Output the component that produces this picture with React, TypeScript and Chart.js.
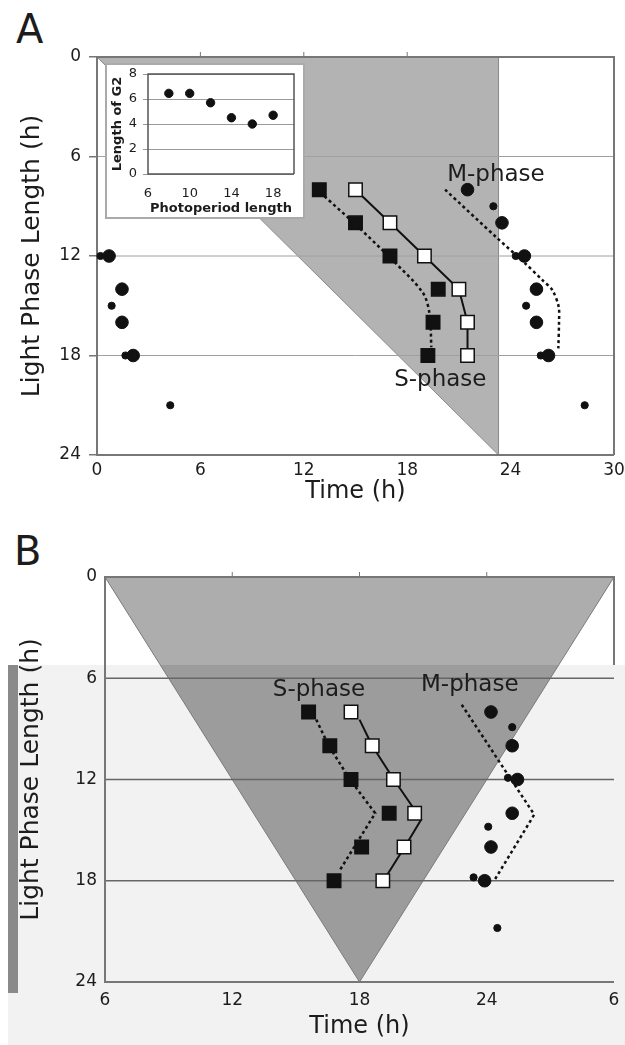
import React, { useEffect, useRef } from 'react';
import { Chart, registerables } from 'chart.js';

Chart.register(...registerables);

const FONT = '"DejaVu Sans", Verdana, sans-serif';
const INK = '#1c1c1c';

// ---------- Panel A (main) ----------
const A_LIGHT = [8, 10, 12, 14, 16, 18];
const A_S_START = [12.9, 15.0, 17.0, 19.8, 19.5, 19.2];
const A_S_END = [15.0, 17.0, 19.0, 21.0, 21.5, 21.5];
const A_S_FIT_X = [13.2, 15.0, 17.0, 18.9, 19.3, 19.4];
const A_S_FIT_Y = [8.4, 10.1, 12.1, 14.2, 15.5, 17.5];
const A_M_BIG = [21.5, 23.5, 24.8, 25.5, 25.5, 26.2];
const A_M_SMALL_X = [23.0, 24.3, 24.9, 25.75, 28.3];
const A_M_SMALL_Y = [9, 12, 15, 18, 21];
const A_WRAP_BIG_X = [0.7, 1.45, 1.45, 2.1];
const A_WRAP_BIG_Y = [12, 14, 16, 18];
const A_WRAP_SMALL_X = [0.2, 0.85, 1.65, 4.25];
const A_WRAP_SMALL_Y = [12, 15, 18, 21];
const A_M_FIT_X = [20.2, 23.2, 24.8, 25.85, 26.42, 26.79, 26.81, 26.77];
const A_M_FIT_Y = [8.0, 10.9, 12.4, 13.46, 14.05, 15.06, 15.96, 17.57];
const A_DARK_X = [0, 23.3, 23.3];
const A_DARK_Y = [0, 0, 24];
const A_X_TICKS = ['0', '6', '12', '18', '24', '30'];
const A_TOP_TICKS = [6, 12, 18];
const A_GRID = [6, 12, 18];
const A_LABELS = ['M-phase', 'S-phase'];
const A_LABEL_X = [23.15, 19.92];
const A_LABEL_Y = [7.49, 19.84];

// ---------- Panel A inset ----------
const INSET_PHOTOPERIOD = [8, 10, 12, 14, 16, 18];
const INSET_G2 = [6.45, 6.45, 5.7, 4.5, 4.0, 4.7];
const INSET_X_TICKS = [6, 10, 14, 18];

// ---------- Panel B ----------
const B_LIGHT = [8, 10, 12, 14, 16, 18];
const B_S_START = [15.6, 16.6, 17.6, 19.4, 18.1, 16.8];
const B_S_END = [17.6, 18.6, 19.6, 20.6, 20.1, 19.1];
const B_S_FIT_X = [15.96, 16.55, 17.55, 18.74, 17.04];
const B_S_FIT_Y = [8.45, 10.0, 12.0, 14.0, 17.44];
const B_E_FIT_X = [18.0, 18.6, 19.62, 20.91, 20.13, 19.13];
const B_E_FIT_Y = [8.45, 10.0, 12.0, 14.37, 16.0, 18.0];
const B_M_BIG = [24.2, 25.2, 25.45, 25.2, 24.2, 23.9];
const B_M_SMALL_X = [25.2, 25.0, 24.07, 23.38, 24.5];
const B_M_SMALL_Y = [8.9, 11.9, 14.8, 17.8, 20.8];
const B_M_FIT_X = [22.82, 26.24, 24.38];
const B_M_FIT_Y = [7.57, 14.08, 17.93];
const B_DARK_X = [6, 30, 18];
const B_DARK_Y = [0, 0, 24];
const B_X_TICKS = ['6', '12', '18', '24', '6'];
const B_TOP_TICKS = [12, 18, 24];
const B_GRID = [6, 12, 18];
const B_LABELS = ['S-phase', 'M-phase'];
const B_LABEL_X = [16.09, 23.2];
const B_LABEL_Y = [7.03, 6.78];

const pts = (xs: number[], ys: number[]) => xs.map((x, i) => ({ x, y: ys[i] }));

const decorPlugin = {
  id: 'decor',
  beforeDatasetsDraw(chart: any, _a: any, o: any) {
    const { ctx, chartArea: ca } = chart;
    const sx = chart.scales.x;
    const sy = chart.scales.y;
    ctx.save();
    if (o.polyX) {
      const path = () => {
        ctx.beginPath();
        o.polyX.forEach((vx: number, i: number) => {
          const px = sx.getPixelForValue(vx);
          const py = sy.getPixelForValue(o.polyY[i]);
          if (i) ctx.lineTo(px, py);
          else ctx.moveTo(px, py);
        });
        ctx.closePath();
      };
      if (o.splitY != null) {
        ctx.save();
        ctx.beginPath();
        ctx.rect(0, 0, chart.width, o.splitY);
        ctx.clip();
        path();
        ctx.fillStyle = o.fill;
        ctx.fill();
        ctx.restore();
        ctx.save();
        ctx.beginPath();
        ctx.rect(0, o.splitY, chart.width, chart.height);
        ctx.clip();
        path();
        ctx.fillStyle = o.fill2;
        ctx.fill();
        ctx.restore();
      } else {
        path();
        ctx.fillStyle = o.fill;
        ctx.fill();
      }
      path();
      ctx.strokeStyle = o.polyStroke;
      ctx.lineWidth = 1;
      ctx.stroke();
    }
    if (o.gridValues) {
      ctx.strokeStyle = o.gridColor;
      ctx.lineWidth = o.gridWidth;
      o.gridValues.forEach((v: number) => {
        const py = sy.getPixelForValue(v);
        ctx.beginPath();
        ctx.moveTo(ca.left, py);
        ctx.lineTo(ca.right, py);
        ctx.stroke();
      });
    }
    ctx.strokeStyle = o.borderColor;
    ctx.lineWidth = o.borderWidth;
    ctx.beginPath();
    ctx.moveTo(ca.right, o.rightEnd != null ? o.rightEnd : ca.bottom);
    ctx.lineTo(ca.right, ca.top);
    ctx.lineTo(ca.left, ca.top);
    ctx.lineTo(ca.left, ca.bottom);
    ctx.lineTo(ca.right, ca.bottom);
    ctx.stroke();
    if (o.topTicks) {
      ctx.lineWidth = 1;
      o.topTicks.forEach((v: number) => {
        const px = sx.getPixelForValue(v);
        ctx.beginPath();
        ctx.moveTo(px, ca.top);
        ctx.lineTo(px, ca.top - 5);
        ctx.stroke();
      });
    }
    ctx.restore();
  },
  afterDatasetsDraw(chart: any, _a: any, o: any) {
    if (!o.texts) return;
    const { ctx } = chart;
    const sx = chart.scales.x;
    const sy = chart.scales.y;
    ctx.save();
    ctx.font = o.textFont;
    ctx.fillStyle = INK;
    ctx.textAlign = 'center';
    ctx.textBaseline = 'alphabetic';
    o.texts.forEach((t: string, i: number) => {
      ctx.fillText(t, sx.getPixelForValue(o.textX[i]), sy.getPixelForValue(o.textY[i]));
    });
    ctx.restore();
  },
};

const tickFont = { family: FONT, size: 17 };
const titleFont = { family: FONT, size: 24 };
const yTitleFont = { family: FONT, size: 25 };

const square = (data: any[], fill: string, r: number) => ({
  data,
  pointStyle: 'rect',
  pointRadius: r,
  pointBackgroundColor: fill,
  pointBorderColor: '#111',
  pointBorderWidth: 1.5,
  clip: false,
});
const dot = (data: any[], r: number) => ({
  data,
  pointStyle: 'circle',
  pointRadius: r,
  pointBackgroundColor: '#111',
  pointBorderColor: '#111',
  pointBorderWidth: 1,
  clip: false,
});
const line = (data: any[], dashed: boolean, tension: number, width: number) => ({
  data,
  showLine: true,
  pointRadius: 0,
  borderColor: '#111',
  borderWidth: width,
  borderDash: dashed ? [3, 3] : [],
  tension,
  clip: false,
});

const baseOpts = {
  animation: false,
  responsive: false,
  devicePixelRatio: 1,
  events: [],
};

function configA(): any {
  return {
    type: 'scatter',
    data: {
      datasets: [
        square(pts(A_S_START, A_LIGHT), '#111', 9.5),
        square(pts(A_S_END, A_LIGHT), '#fff', 9.5),
        dot(pts(A_M_BIG, A_LIGHT), 6.3),
        dot(pts(A_M_SMALL_X, A_M_SMALL_Y), 3.6),
        dot(pts(A_WRAP_BIG_X, A_WRAP_BIG_Y), 6.3),
        dot(pts(A_WRAP_SMALL_X, A_WRAP_SMALL_Y), 3.6),
        line(pts(A_S_END, A_LIGHT), false, 0, 2),
        line(pts(A_S_FIT_X, A_S_FIT_Y), true, 0.3, 2.5),
        line(pts(A_M_FIT_X, A_M_FIT_Y), true, 0.3, 2.5),
      ],
    },
    plugins: [decorPlugin],
    options: {
      ...baseOpts,
      layout: { padding: { top: 57, right: 10, left: 0, bottom: 0 } },
      plugins: {
        legend: { display: false },
        tooltip: { enabled: false },
        decor: {
          polyX: A_DARK_X,
          polyY: A_DARK_Y,
          fill: '#b3b3b3',
          polyStroke: '#8a8a8a',
          gridValues: A_GRID,
          gridColor: '#a0a0a0',
          gridWidth: 1,
          borderColor: '#777',
          borderWidth: 2,
          topTicks: A_TOP_TICKS,
          texts: A_LABELS,
          textX: A_LABEL_X,
          textY: A_LABEL_Y,
          textFont: `23px ${FONT}`,
        },
      },
      scales: {
        x: {
          type: 'linear',
          min: 0,
          max: 30,
          afterFit: (s: any) => {
            s.height = 75;
            s.paddingLeft = 0;
            s.paddingRight = 0;
          },
          grid: { display: false, drawTicks: false },
          border: { display: false },
          ticks: {
            stepSize: 6,
            font: tickFont,
            color: INK,
            padding: 5,
            maxRotation: 0,
            autoSkip: false,
            callback: (_v: any, i: number) => A_X_TICKS[i],
          },
          title: { display: true, text: 'Time (h)', font: titleFont, color: INK, padding: { top: 0, bottom: 23.6 } },
        },
        y: {
          type: 'linear',
          reverse: true,
          min: 0,
          max: 24,
          afterFit: (s: any) => {
            s.width = 97;
            s.paddingTop = 0;
            s.paddingBottom = 0;
          },
          grid: { drawOnChartArea: false, tickLength: 8, color: '#777', lineWidth: 1.5 },
          border: { display: false },
          ticks: { stepSize: 6, font: tickFont, color: INK, padding: 8 },
          title: { display: true, text: 'Light Phase Length (h)', font: yTitleFont, color: INK, padding: { top: 17, bottom: 0 } },
        },
      },
    },
  };
}

function configInset(): any {
  return {
    type: 'scatter',
    data: {
      datasets: [dot(pts(INSET_PHOTOPERIOD, INSET_G2), 4.2)],
    },
    plugins: [decorPlugin],
    options: {
      ...baseOpts,
      layout: { padding: { top: 11, right: 11, left: 0, bottom: 0 } },
      plugins: {
        legend: { display: false },
        tooltip: { enabled: false },
        decor: { borderColor: '#555', borderWidth: 1.5 },
      },
      scales: {
        x: {
          type: 'linear',
          min: 6,
          max: 20,
          afterBuildTicks: (s: any) => {
            s.ticks = INSET_X_TICKS.map((v) => ({ value: v }));
          },
          afterFit: (s: any) => {
            s.height = 45;
            s.paddingLeft = 0;
            s.paddingRight = 0;
          },
          grid: { display: false, drawTicks: false },
          border: { display: false },
          ticks: { font: { family: FONT, size: 13 }, color: INK, padding: 12, maxRotation: 0, autoSkip: false },
          title: {
            display: true,
            text: 'Photoperiod length',
            font: { family: FONT, size: 13, weight: 'bold' },
            color: INK,
            padding: { top: 0, bottom: 3 },
          },
        },
        y: {
          type: 'linear',
          min: 0,
          max: 8,
          afterFit: (s: any) => {
            s.width = 43;
            s.paddingTop = 0;
            s.paddingBottom = 0;
          },
          grid: { color: '#9a9a9a', tickLength: 5, lineWidth: 1 },
          border: { display: false },
          ticks: { stepSize: 2, font: { family: FONT, size: 13 }, color: INK, padding: 6 },
          title: {
            display: true,
            text: 'Length of G2',
            font: { family: FONT, size: 13, weight: 'bold' },
            color: INK,
            padding: { top: 5, bottom: 0 },
          },
        },
      },
    },
  };
}

const B_SPLIT = 135; // canvas y where the lighter lower layer starts

function configB(): any {
  return {
    type: 'scatter',
    data: {
      datasets: [
        square(pts(B_S_START, B_LIGHT), '#111', 9.5),
        square(pts(B_S_END, B_LIGHT), '#fff', 9.5),
        dot(pts(B_M_BIG, B_LIGHT), 6.3),
        dot(pts(B_M_SMALL_X, B_M_SMALL_Y), 3.6),
        line(pts(B_E_FIT_X, B_E_FIT_Y), false, 0, 2),
        line(pts(B_S_FIT_X, B_S_FIT_Y), true, 0, 2.5),
        line(pts(B_M_FIT_X, B_M_FIT_Y), true, 0, 2.5),
      ],
    },
    plugins: [decorPlugin],
    options: {
      ...baseOpts,
      layout: { padding: { top: 47, right: 2, left: 0, bottom: 0 } },
      plugins: {
        legend: { display: false },
        tooltip: { enabled: false },
        decor: {
          polyX: B_DARK_X,
          polyY: B_DARK_Y,
          fill: '#adadad',
          fill2: '#9c9c9c',
          splitY: B_SPLIT,
          polyStroke: '#7a7a7a',
          gridValues: B_GRID,
          gridColor: '#666',
          gridWidth: 1.5,
          borderColor: '#777',
          borderWidth: 2,
          rightEnd: B_SPLIT,
          topTicks: B_TOP_TICKS,
          texts: B_LABELS,
          textX: B_LABEL_X,
          textY: B_LABEL_Y,
          textFont: `23px ${FONT}`,
        },
      },
      scales: {
        x: {
          type: 'linear',
          min: 6,
          max: 30,
          afterFit: (s: any) => {
            s.height = 63;
            s.paddingLeft = 0;
            s.paddingRight = 0;
          },
          grid: { display: false, drawTicks: false },
          border: { display: false },
          ticks: {
            stepSize: 6,
            font: tickFont,
            color: INK,
            padding: 8,
            maxRotation: 0,
            autoSkip: false,
            callback: (_v: any, i: number) => B_X_TICKS[i],
          },
          title: { display: true, text: 'Time (h)', font: titleFont, color: INK, padding: { top: 0, bottom: 3.6 } },
        },
        y: {
          type: 'linear',
          reverse: true,
          min: 0,
          max: 24,
          afterFit: (s: any) => {
            s.width = 105;
            s.paddingTop = 0;
            s.paddingBottom = 0;
          },
          grid: { display: false, drawTicks: false },
          border: { display: false },
          ticks: { stepSize: 6, font: tickFont, color: INK, padding: 8 },
          title: { display: true, text: 'Light Phase Length (h)', font: yTitleFont, color: INK, padding: { top: 16.5, bottom: 0 } },
        },
      },
    },
  };
}

export default function App() {
  const aRef = useRef<HTMLCanvasElement>(null);
  const insetRef = useRef<HTMLCanvasElement>(null);
  const bRef = useRef<HTMLCanvasElement>(null);

  useEffect(() => {
    const charts: Chart[] = [];
    if (aRef.current) charts.push(new Chart(aRef.current, configA()));
    if (insetRef.current) charts.push(new Chart(insetRef.current, configInset()));
    if (bRef.current) charts.push(new Chart(bRef.current, configB()));
    return () => charts.forEach((c) => c.destroy());
  }, []);

  const abs = (left: number, top: number, width: number, height: number, extra: any = {}) => ({
    position: 'absolute' as const,
    left,
    top,
    width,
    height,
    ...extra,
  });

  return (
    <div style={{ position: 'absolute', left: 0, top: 0, width: 625, height: 1045, overflow: 'hidden', background: '#fff' }}>
      <div style={abs(8, 665, 617, 380, { background: '#f2f2f2' })} />
      <div style={abs(8, 665, 10, 328, { background: '#8a8a8a' })} />
      <div style={abs(16, 9, 40, 44, { font: `40px ${FONT}`, lineHeight: '40px', color: INK })}>A</div>
      <div style={abs(14, 531, 40, 44, { font: `40px ${FONT}`, lineHeight: '40px', color: INK })}>B</div>
      <canvas ref={aRef} width={625} height={530} style={abs(0, 0, 625, 530)} />
      <div style={abs(105, 63, 200, 156, { background: '#fff', border: '2px solid #aaa', boxSizing: 'border-box' })} />
      <canvas ref={insetRef} width={200} height={156} style={abs(105, 63, 200, 156)} />
      <canvas ref={bRef} width={625} height={515} style={abs(0, 530, 625, 515)} />
    </div>
  );
}
